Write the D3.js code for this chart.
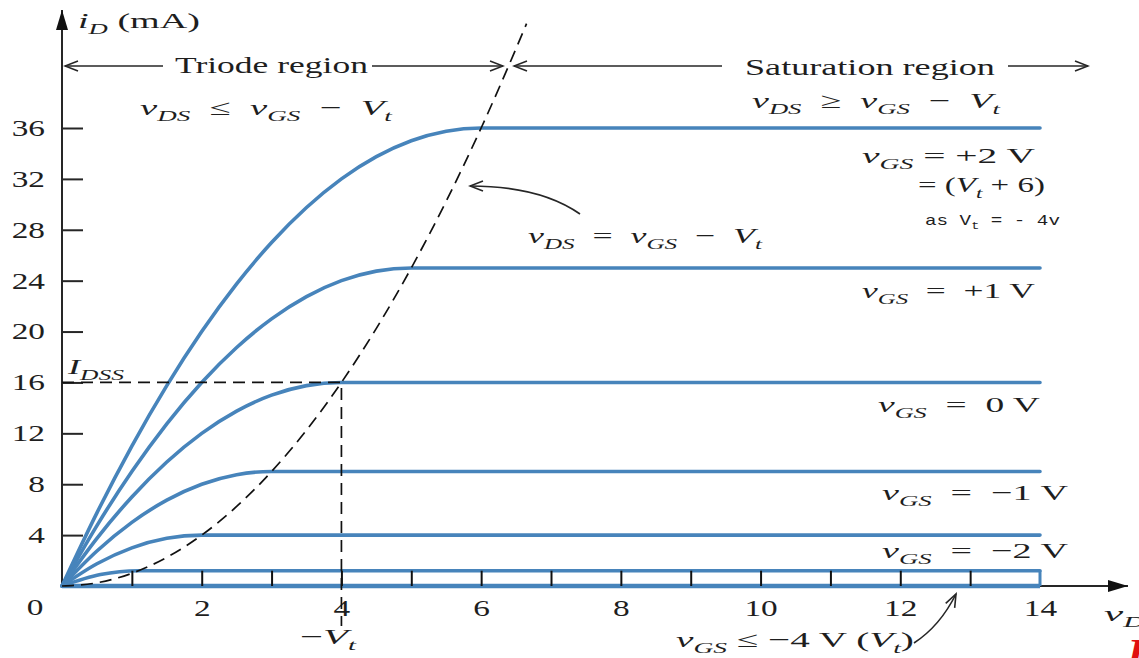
<!DOCTYPE html>
<html>
<head>
<meta charset="utf-8">
<script src="https://cdn.jsdelivr.net/npm/d3@7"></script>
<style>
  body { margin: 0; background: #fff; }
  svg { display: block; }
  text { font-family: "Liberation Serif", "Times New Roman", serif; fill: #1e1e1e; white-space: pre; }
</style>
</head>
<body>
<svg id="chart"></svg>
<script>
// SIZE
var width = 1139;
var height = 658;
var margin = {top: 20, right: 99, bottom: 72, left: 62};

// DATA : [vDS (V), iD (mA)]
var vgsValues = ["+2", "+1", "0", "−1", "−2", "−3"];
var curveVgsP2 = [[0,0],[0.5,5.75],[1,11],[1.5,15.75],[2,20],[2.5,23.75],[3,27],[3.5,29.75],[4,32],[4.5,33.75],[5,35],[5.5,35.75],[6,36],[14,36]];
var curveVgsP1 = [[0,0],[0.5,4.75],[1,9],[1.5,12.75],[2,16],[2.5,18.75],[3,21],[3.5,22.75],[4,24],[4.5,24.75],[5,25],[14,25]];
var curveVgs0  = [[0,0],[0.5,3.75],[1,7],[1.5,9.75],[2,12],[2.5,13.75],[3,15],[3.5,15.75],[4,16],[14,16]];
var curveVgsM1 = [[0,0],[0.5,2.75],[1,5],[1.5,6.75],[2,8],[2.5,8.75],[3,9],[14,9]];
var curveVgsM2 = [[0,0],[0.5,1.75],[1,3],[1.5,3.75],[2,4],[14,4]];
var curveVgsM3 = [[0,0],[0.55,0.9],[1.1,1.2],[14,1.2]];
var cutoffLine = [[0,0],[14,0]];
// boundary vDS = vGS - Vt
var edgeCurve = [[0,0],[0.5,0.25],[1,1],[1.5,2.25],[2,4],[2.5,6.25],[3,9],[3.5,12.25],[4,16],[4.5,20.25],[5,25],[5.5,30.25],[6,36],[6.5,42.25],[6.65,44.2]];
var idss = 16;
var vtAbs = 4;
var xTicks = [2, 4, 6, 8, 10, 12, 14];
var xMinorTicks = [1, 2, 3, 4, 5, 6, 7, 8, 9, 10, 11, 12, 13];
var yTicks = [4, 8, 12, 16, 20, 24, 28, 32, 36];

var curves = [curveVgsP2, curveVgsP1, curveVgs0, curveVgsM1, curveVgsM2, curveVgsM3];

var blue = "#4784bb";
var ink = "#262626";
var sx = 1.45; // the scanned picture is stretched sideways

var svg = d3.select("#chart").attr("width", width).attr("height", height);

// markers
var defs = svg.append("defs");
defs.append("marker")
  .attr("id", "open")
  .attr("viewBox", "-14 -7 16 14")
  .attr("refX", 0).attr("refY", 0)
  .attr("markerWidth", 16).attr("markerHeight", 14)
  .attr("markerUnits", "userSpaceOnUse")
  .attr("orient", "auto")
  .append("path")
  .attr("d", "M-13,-5 L0,0 L-13,5")
  .attr("fill", "none").attr("stroke", ink).attr("stroke-width", 1.6);
defs.append("marker")
  .attr("id", "solid")
  .attr("viewBox", "-20 -7 22 14")
  .attr("refX", 0).attr("refY", 0)
  .attr("markerWidth", 22).attr("markerHeight", 14)
  .attr("markerUnits", "userSpaceOnUse")
  .attr("orient", "auto")
  .append("path")
  .attr("d", "M-20,-6 L0,0 L-20,6 Z")
  .attr("fill", "#111");

// SCALES
var xScale = d3.scaleLinear().domain([0, 14]).range([margin.left, 1040]);
var yScale = d3.scaleLinear().domain([0, 36]).range([height - margin.bottom, 128]);

var line = d3.line()
  .x(function(d) { return xScale(d[0]); })
  .y(function(d) { return yScale(d[1]); })
  .curve(d3.curveMonotoneX);

// AXES
var yAxis = d3.axisLeft(yScale).tickValues(yTicks).tickSizeInner(-21).tickSizeOuter(0).tickPadding(17);
var yAxisG = svg.append("g").attr("transform", "translate(" + margin.left + ",0)").call(yAxis);
yAxisG.select(".domain").remove();
yAxisG.selectAll("line").attr("stroke", ink).attr("stroke-width", 2);
yAxisG.selectAll("text")
  .attr("font-size", 23).attr("fill", ink)
  .attr("x", -17 / sx)
  .attr("transform", "scale(" + sx + ",1)");

var xAxis = d3.axisBottom(xScale).tickValues(xTicks).tickSize(0).tickPadding(14);
var xAxisG = svg.append("g").attr("transform", "translate(0," + yScale(0) + ")").call(xAxis);
xAxisG.select(".domain").remove();
xAxisG.selectAll("text")
  .attr("font-size", 23).attr("fill", ink)
  .attr("transform", "scale(" + sx + ",1)");

// origin label
svg.append("text").attr("font-size", 23).attr("text-anchor", "middle")
  .attr("transform", "translate(35," + (yScale(0) + 29) + ") scale(" + sx + ",1)")
  .text("0");

// axis lines with arrows
svg.append("line")
  .attr("x1", xScale(0)).attr("y1", yScale(0))
  .attr("x2", xScale(0)).attr("y2", 10)
  .attr("stroke", ink).attr("stroke-width", 2)
  .attr("marker-end", "url(#solid)");
svg.append("line")
  .attr("x1", xScale(0)).attr("y1", yScale(0))
  .attr("x2", 1128).attr("y2", yScale(0))
  .attr("stroke", ink).attr("stroke-width", 2)
  .attr("marker-end", "url(#solid)");

// CURVES
var curveG = svg.append("g");
curveG.selectAll("path.curve")
  .data(curves)
  .join("path")
  .attr("class", "curve")
  .attr("d", line)
  .attr("fill", "none")
  .attr("stroke", blue)
  .attr("stroke-width", 3.6)
  .attr("stroke-linecap", "round");

curveG.append("path")
  .attr("d", line(cutoffLine))
  .attr("fill", "none").attr("stroke", blue).attr("stroke-width", 4.5);

// small ticks between the two bottom lines
var minorAxis = d3.axisBottom(xScale).tickValues(xMinorTicks).tickSize(-(yScale(0) - yScale(1.2))).tickFormat("");
var minorG = svg.append("g").attr("transform", "translate(0," + yScale(0) + ")").call(minorAxis);
minorG.select(".domain").remove();
minorG.selectAll("line").attr("stroke", "#111").attr("stroke-width", 2);
svg.append("line")
  .attr("x1", xScale(14)).attr("x2", xScale(14))
  .attr("y1", yScale(0)).attr("y2", yScale(1.2))
  .attr("stroke", blue).attr("stroke-width", 3);

// boundary parabola
svg.append("path")
  .attr("d", line(edgeCurve))
  .attr("fill", "none").attr("stroke", "#111")
  .attr("stroke-width", 1.7)
  .attr("stroke-dasharray", "12,7");

// IDSS guides
svg.append("path")
  .attr("d", "M" + xScale(0) + "," + yScale(idss) + "H" + xScale(vtAbs) + "V" + (yScale(0) + 40))
  .attr("fill", "none").attr("stroke", "#111")
  .attr("stroke-width", 1.7)
  .attr("stroke-dasharray", "12,7");

// ANNOTATIONS
var ann = svg.append("g");

function mathLabel(x, y, parts, size, w, opts) {
  opts = opts || {};
  var t = ann.append("text").attr("font-size", size);
  if (opts.family) t.style("font-family", opts.family);
  if (opts.color) t.style("fill", opts.color);
  if (opts.weight) t.attr("font-weight", opts.weight);
  var shift = 0;
  parts.forEach(function(p) {
    var ts = t.append("tspan").text(p[0]);
    if (p[1] == "i" || p[1] == "s") ts.style("font-style", "italic");
    if (p[1] == "s" || p[1] == "b") {
      ts.attr("font-size", size * 0.7).attr("dy", size * 0.28 - shift);
      shift = size * 0.28;
    } else if (shift) {
      ts.attr("dy", -shift);
      shift = 0;
    }
  });
  var len = t.node().getComputedTextLength();
  var s = w ? w / len : sx;
  t.attr("transform", "translate(" + x + "," + y + ") scale(" + s + ",1)");
  return t;
}

var sp = "\u2002";

mathLabel(78, 28, [["i","i"],["D","s"],[" (mA)","n"]], 22, 122);

// region headings
mathLabel(175, 73, [["Triode region","n"]], 24, 193);
mathLabel(745, 75, [["Saturation region","n"]], 24, 250);

function regionArrow(xa, xb) {
  svg.append("line")
    .attr("x1", xa).attr("y1", 66).attr("x2", xb).attr("y2", 66)
    .attr("stroke", ink).attr("stroke-width", 1.6)
    .attr("marker-end", "url(#open)");
}
regionArrow(163, 65);
regionArrow(372, 503);
regionArrow(722, 514);
regionArrow(1008, 1088);

mathLabel(140, 115, [["v","i"],["DS","s"],[sp + "≤" + sp,"n"],["v","i"],["GS","s"],[sp + "−" + sp,"n"],["V","i"],["t","s"]], 22, 252);
mathLabel(752, 108, [["v","i"],["DS","s"],[sp + "≥" + sp,"n"],["v","i"],["GS","s"],[sp + "−" + sp,"n"],["V","i"],["t","s"]], 22, 248);

mathLabel(862, 163, [["v","i"],["GS","s"],[" = +2 V","n"]], 22, 173);
mathLabel(918, 192, [["= (","n"],["V","i"],["t","s"],[" + 6)","n"]], 22, 127);
mathLabel(925, 225, [["as V","n"],["t","b"],[" = - 4v","n"]], 15, 135, {family: "Liberation Mono"});

mathLabel(528, 243, [["v","i"],["DS","s"],[sp + "=" + sp,"n"],["v","i"],["GS","s"],[sp + "−" + sp,"n"],["V","i"],["t","s"]], 22, 234);

mathLabel(862, 298, [["v","i"],["GS","s"],[sp + "=" + sp + "+1 V","n"]], 22, 173);
mathLabel(68, 374, [["I","i"],["DSS","s"]], 22, 56);
mathLabel(878, 412, [["v","i"],["GS","s"],[sp + "=" + sp + "0 V","n"]], 22, 162);
mathLabel(882, 500, [["v","i"],["GS","s"],[sp + "=" + sp + "−1 V","n"]], 22, 186);
mathLabel(882, 558, [["v","i"],["GS","s"],[sp + "=" + sp + "−2 V","n"]], 22, 186);
mathLabel(300, 644, [["−","n"],["V","i"],["t","s"]], 22, 56);
mathLabel(676, 647, [["v","i"],["GS","s"],[" ≤ −4 V (","n"],["V","i"],["t","s"],[")","n"]], 22, 238);
mathLabel(1104, 621, [["v","i"],["DS","s"]], 22, 56);
mathLabel(1127, 664, [["F","i"]], 36, 30, {color: "#e01010", weight: "bold"});

// pointer arrows
svg.append("path")
  .attr("d", "M580,214 Q540,186 470,186")
  .attr("fill", "none").attr("stroke", ink).attr("stroke-width", 1.6)
  .attr("marker-end", "url(#open)");
svg.append("path")
  .attr("d", "M914,643 Q940,626 956,594")
  .attr("fill", "none").attr("stroke", ink).attr("stroke-width", 1.6)
  .attr("marker-end", "url(#open)");
</script>
</body>
</html>
